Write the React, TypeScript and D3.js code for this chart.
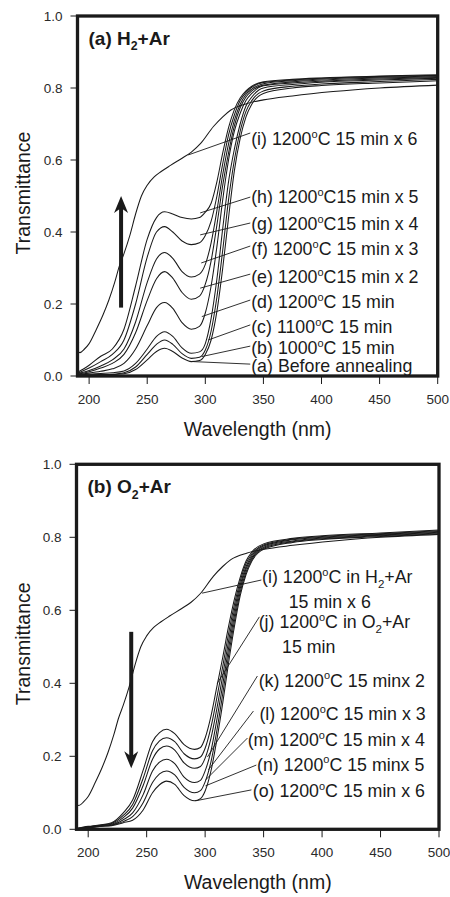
import React from 'react';
import * as d3 from 'd3';

// ---------- data ----------
// Panel (a) family wavelength grid (nm)
const WL_A = [190, 200, 210, 220, 230, 240, 250, 258, 265, 272, 280, 288, 295, 300, 305, 310, 315, 320, 325, 330, 335, 340, 350, 375, 400, 450, 500];
const A_a = [0.001, 0.002, 0.003, 0.004, 0.006, 0.018, 0.045, 0.068, 0.077, 0.068, 0.05, 0.04, 0.043, 0.06, 0.1, 0.18, 0.3, 0.44, 0.57, 0.66, 0.72, 0.755, 0.785, 0.8, 0.807, 0.814, 0.82];
const A_b = [0.002, 0.003, 0.004, 0.005, 0.009, 0.025, 0.06, 0.088, 0.1, 0.088, 0.062, 0.049, 0.052, 0.072, 0.125, 0.22, 0.35, 0.49, 0.6, 0.68, 0.735, 0.765, 0.792, 0.805, 0.811, 0.818, 0.824];
const A_c = [0.003, 0.005, 0.007, 0.009, 0.014, 0.035, 0.075, 0.11, 0.123, 0.11, 0.078, 0.063, 0.067, 0.09, 0.16, 0.27, 0.41, 0.54, 0.63, 0.7, 0.75, 0.775, 0.8, 0.81, 0.816, 0.822, 0.827];
const A_d = [0.004, 0.008, 0.013, 0.02, 0.035, 0.075, 0.14, 0.19, 0.204, 0.188, 0.148, 0.13, 0.138, 0.175, 0.25, 0.36, 0.49, 0.6, 0.68, 0.73, 0.765, 0.785, 0.806, 0.814, 0.819, 0.825, 0.829];
const A_e = [0.005, 0.012, 0.022, 0.035, 0.06, 0.12, 0.21, 0.27, 0.29, 0.272, 0.232, 0.213, 0.222, 0.255, 0.32, 0.42, 0.53, 0.62, 0.695, 0.745, 0.775, 0.792, 0.808, 0.817, 0.822, 0.828, 0.831];
const A_f = [0.006, 0.015, 0.028, 0.045, 0.075, 0.15, 0.26, 0.325, 0.343, 0.327, 0.29, 0.275, 0.283, 0.31, 0.37, 0.46, 0.56, 0.645, 0.71, 0.755, 0.782, 0.797, 0.812, 0.82, 0.825, 0.83, 0.833];
const A_g = [0.007, 0.022, 0.04, 0.06, 0.1, 0.2, 0.33, 0.4, 0.415, 0.4, 0.375, 0.365, 0.37, 0.39, 0.43, 0.5, 0.59, 0.67, 0.725, 0.765, 0.788, 0.802, 0.815, 0.822, 0.827, 0.832, 0.835];
const A_h = [0.01, 0.03, 0.055, 0.075, 0.13, 0.25, 0.38, 0.44, 0.456, 0.45, 0.44, 0.436, 0.44, 0.455, 0.48, 0.54, 0.62, 0.69, 0.74, 0.772, 0.792, 0.805, 0.817, 0.824, 0.828, 0.833, 0.837];

// Curve (i): 1200°C in H2+Ar, 15 min x 6 (shown in both panels)
const WL_I = [190, 192, 196, 200, 206, 212, 217, 222, 226, 230, 235, 240, 245, 250, 256, 262, 270, 280, 288, 296, 307, 315, 322, 336, 350, 375, 410, 450, 500];
const T_I = [0.07, 0.065, 0.075, 0.09, 0.128, 0.17, 0.211, 0.26, 0.305, 0.34, 0.39, 0.45, 0.5, 0.53, 0.553, 0.568, 0.585, 0.605, 0.622, 0.646, 0.693, 0.72, 0.739, 0.757, 0.767, 0.778, 0.79, 0.8, 0.808];

// Panel (b) family wavelength grid (nm)
const WL_B = [190, 200, 210, 220, 230, 238, 247, 255, 261, 267, 274, 282, 291, 296, 300, 305, 310, 315, 320, 325, 330, 335, 340, 350, 375, 400, 450, 500];
const B_j = [0.002, 0.008, 0.012, 0.018, 0.045, 0.08, 0.162, 0.24, 0.265, 0.274, 0.262, 0.232, 0.219, 0.224, 0.25, 0.31, 0.39, 0.47, 0.555, 0.63, 0.69, 0.735, 0.76, 0.782, 0.797, 0.804, 0.812, 0.82];
const B_k = [0.002, 0.007, 0.011, 0.016, 0.038, 0.068, 0.14, 0.215, 0.242, 0.251, 0.24, 0.207, 0.193, 0.198, 0.222, 0.28, 0.36, 0.445, 0.535, 0.615, 0.68, 0.728, 0.755, 0.779, 0.795, 0.802, 0.81, 0.818];
const B_l = [0.001, 0.006, 0.01, 0.014, 0.032, 0.058, 0.12, 0.192, 0.22, 0.228, 0.217, 0.182, 0.167, 0.172, 0.195, 0.25, 0.33, 0.42, 0.515, 0.6, 0.67, 0.72, 0.75, 0.776, 0.793, 0.8, 0.808, 0.816];
const B_m = [0.001, 0.005, 0.009, 0.012, 0.026, 0.045, 0.095, 0.16, 0.184, 0.192, 0.18, 0.143, 0.128, 0.134, 0.16, 0.215, 0.3, 0.395, 0.495, 0.585, 0.66, 0.713, 0.745, 0.773, 0.79, 0.798, 0.806, 0.814];
const B_n = [0.001, 0.004, 0.008, 0.011, 0.021, 0.035, 0.073, 0.128, 0.152, 0.16, 0.149, 0.115, 0.1, 0.106, 0.13, 0.185, 0.27, 0.37, 0.475, 0.57, 0.65, 0.705, 0.74, 0.77, 0.788, 0.796, 0.804, 0.812];
const B_o = [0.0, 0.004, 0.008, 0.01, 0.018, 0.025, 0.053, 0.1, 0.122, 0.132, 0.123, 0.092, 0.078, 0.084, 0.105, 0.16, 0.245, 0.345, 0.455, 0.555, 0.64, 0.698, 0.735, 0.767, 0.786, 0.794, 0.802, 0.81];

const X_TICKS = [200, 250, 300, 350, 400, 450, 500];
const Y_TICKS = [0, 0.2, 0.4, 0.6, 0.8, 1.0];

// Labels (° -> superscript o, ₂ -> subscript 2)
const LABELS_A = [
  '(a) Before annealing',
  '(b) 1000°C 15 min',
  '(c) 1100°C 15 min',
  '(d) 1200°C 15 min',
  '(e) 1200°C15 min x 2',
  '(f) 1200°C 15 min x 3',
  '(g) 1200°C15 min x 4',
  '(h) 1200°C15 min x 5',
  '(i) 1200°C 15 min x 6',
];
const LABELS_B = [
  ['(i) 1200°C in H₂+Ar', '15 min x 6'],
  ['(j) 1200°C in O₂+Ar', '15 min'],
  ['(k) 1200°C 15 minx 2'],
  ['(l) 1200°C 15 min x 3'],
  ['(m) 1200°C 15 min x 4'],
  ['(n) 1200°C 15 minx 5'],
  ['(o) 1200°C 15 min x 6'],
];

// ---------- annotation layout (data units) ----------
// top panel: label anchor [λ, T] for each label, leader [start λ,T, end λ,T]
const ANN_A = [
  { at: [339.5, 0.012], lead: [338.7, 0.033, 289.6, 0.04] },
  { at: [339.5, 0.06], lead: [338.7, 0.083, 297, 0.054] },
  { at: [339.5, 0.12], lead: [338.7, 0.142, 302.5, 0.1] },
  { at: [339.5, 0.188], lead: [338.7, 0.211, 297, 0.165] },
  { at: [339.5, 0.258], lead: [338.7, 0.283, 295.6, 0.244] },
  { at: [339.5, 0.336], lead: [338.7, 0.361, 296.5, 0.314] },
  { at: [339.5, 0.406], lead: [338.7, 0.425, 295.6, 0.392] },
  { at: [339.5, 0.481], lead: [338.7, 0.497, 295.6, 0.453] },
  { at: [339.5, 0.642], lead: [338.7, 0.675, 285.3, 0.614] },
];
const ANN_B = [
  { at: [348.7, 0.675], at2: [371.5, 0.605], lead: [348.1, 0.683, 297.4, 0.647] },
  { at: [345.8, 0.551], at2: [365.8, 0.483], lead: [346.4, 0.582, 310.3, 0.4] },
  { at: [345.8, 0.391], lead: [344.7, 0.42, 302, 0.198] },
  { at: [346.4, 0.299], lead: [341.3, 0.324, 302.8, 0.163] },
  { at: [336.4, 0.228], lead: [336.2, 0.25, 300.3, 0.135] },
  { at: [344.4, 0.161], lead: [343.8, 0.176, 300.3, 0.119] },
  { at: [340.7, 0.089], lead: [339.6, 0.108, 291.7, 0.078] },
];

const FONT = '"Liberation Sans", Arial, Helvetica, sans-serif';
const INK = '#1a1a1a';

function Rich({ x, y, text, size, weight }: any) {
  const parts = text.split(/(°|₂)/);
  const kids: any[] = [];
  let shift = 0;
  const sup = size * 0.4;
  const sub = size * 0.28;
  parts.forEach((p: string, i: number) => {
    if (p === '°') {
      kids.push(<tspan key={i} dy={shift - sup} fontSize={size * 0.62}>o</tspan>);
      shift = sup;
    } else if (p === '₂') {
      kids.push(<tspan key={i} dy={shift + sub} fontSize={size * 0.65}>2</tspan>);
      shift = -sub;
    } else if (p) {
      kids.push(<tspan key={i} dy={shift}>{p}</tspan>);
      shift = 0;
    }
  });
  return (
    <text x={x} y={y} fontSize={size} fontWeight={weight || 'normal'} fill={INK} fontFamily={FONT}>
      {kids}
    </text>
  );
}

function Panel({ top, bottom, left, right, title, series, labels, ann, arrow }: any) {
  const x = d3.scaleLinear().domain([190, 500]).range([left, right]);
  const y = d3.scaleLinear().domain([0, 1]).range([bottom, top]);
  const line = d3
    .line<[number, number]>()
    .x((d) => x(d[0]))
    .y((d) => y(d[1]))
    .curve(d3.curveMonotoneX);
  const cx = (left + right) / 2;
  const cy = (top + bottom) / 2;
  const ax = x(arrow.wl);
  const a0 = y(arrow.from);
  const a1 = y(arrow.to);
  const dir = a1 < a0 ? -1 : 1;
  const headLen = 17;
  const headW = 7;
  return (
    <g>
      <defs>
        <clipPath id={`clip-${top}`}>
          <rect x={left} y={top} width={right - left} height={bottom - top} />
        </clipPath>
      </defs>
      <g clipPath={`url(#clip-${top})`}>
        {series.map((s: any, i: number) => (
          <path
            key={i}
            d={line(s.wl.map((w: number, j: number) => [w, s.t[j]]) as any) || ''}
            fill="none"
            stroke={INK}
            strokeWidth={1.05}
          />
        ))}
      </g>
      {ann.map((a: any, i: number) => (
        <line
          key={'l' + i}
          x1={x(a.lead[0])}
          y1={y(a.lead[1])}
          x2={x(a.lead[2])}
          y2={y(a.lead[3])}
          stroke={INK}
          strokeWidth={0.9}
        />
      ))}
      {labels.map((lab: any, i: number) => {
        const lines = Array.isArray(lab) ? lab : [lab];
        const a = ann[i];
        return (
          <g key={'t' + i}>
            <Rich x={x(a.at[0])} y={y(a.at[1])} text={lines[0]} size={17.8} />
            {lines[1] && <Rich x={x(a.at2[0])} y={y(a.at2[1])} text={lines[1]} size={17.8} />}
          </g>
        );
      })}
      {/* arrow */}
      <line x1={ax} y1={a0} x2={ax} y2={a1 - dir * headLen * 0.6} stroke={INK} strokeWidth={4} />
      <path
        d={`M${ax},${a1} L${ax - headW},${a1 - dir * headLen} L${ax},${a1 - dir * headLen * 0.7} L${ax + headW},${a1 - dir * headLen} Z`}
        fill={INK}
      />
      {/* frame */}
      <rect x={left} y={top} width={right - left} height={bottom - top} fill="none" stroke={INK} strokeWidth={3.3} />
      {/* y ticks */}
      {Y_TICKS.map((t) => (
        <g key={'y' + t}>
          <line x1={left - 7} x2={left} y1={y(t)} y2={y(t)} stroke={INK} strokeWidth={1} />
          <text x={left - 15} y={y(t) + 5} textAnchor="end" fontSize={13.5} fill="#2a2a2a" fontFamily={FONT}>
            {d3.format('.1f')(t)}
          </text>
        </g>
      ))}
      {/* x ticks */}
      {X_TICKS.map((t) => (
        <g key={'x' + t}>
          <line x1={x(t)} x2={x(t)} y1={bottom} y2={bottom + 8} stroke={INK} strokeWidth={1} />
          <text x={x(t)} y={bottom + 28} textAnchor="middle" fontSize={13.5} fill="#2a2a2a" fontFamily={FONT}>
            {t}
          </text>
        </g>
      ))}
      <text x={cx} y={bottom + 60} textAnchor="middle" fontSize={19.5} fill={INK} fontFamily={FONT}>
        Wavelength (nm)
      </text>
      <text
        transform={`translate(30,${cy - 3}) rotate(-90)`}
        textAnchor="middle"
        fontSize={19.5}
        fill={INK}
        fontFamily={FONT}
      >
        Transmittance
      </text>
      <Rich x={left + 11} y={top + 29} text={title} size={19} weight="bold" />
    </g>
  );
}

export default function App() {
  const seriesA = [A_a, A_b, A_c, A_d, A_e, A_f, A_g, A_h].map((t) => ({ wl: WL_A, t }));
  seriesA.push({ wl: WL_I, t: T_I });
  const seriesB = [B_j, B_k, B_l, B_m, B_n, B_o].map((t) => ({ wl: WL_B, t }));
  seriesB.push({ wl: WL_I, t: T_I });
  return (
    <svg
      width={450}
      height={897}
      viewBox="0 0 450 897"
      style={{ position: 'absolute', left: 0, top: 0, background: '#fff' }}
    >
      <rect x={0} y={0} width={450} height={897} fill="#fff" />
      <Panel
        top={16}
        bottom={376}
        left={77.5}
        right={437.7}
        title="(a) H₂+Ar"
        series={seriesA}
        labels={LABELS_A}
        ann={ANN_A}
        arrow={{ wl: 227.5, from: 0.19, to: 0.5 }}
      />
      <Panel
        top={464.3}
        bottom={829.3}
        left={76.5}
        right={439}
        title="(b) O₂+Ar"
        series={seriesB}
        labels={LABELS_B}
        ann={ANN_B}
        arrow={{ wl: 236.8, from: 0.541, to: 0.167 }}
      />
    </svg>
  );
}
